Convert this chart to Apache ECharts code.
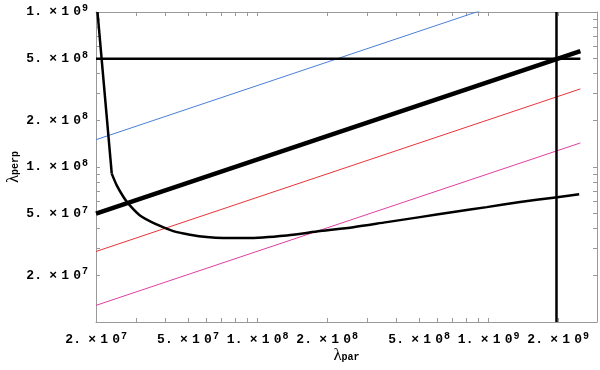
<!DOCTYPE html>
<html>
<head>
<meta charset="utf-8">
<title>lambda perp vs lambda par</title>
<script src="https://cdn.jsdelivr.net/npm/echarts@6/dist/echarts.min.js"></script>
<style>
  html, body { margin: 0; padding: 0; background: #fff; }
  #main { width: 600px; height: 370px; }
</style>
</head>
<body>
<div id="main"></div>
<script>
// axis ranges (log-log)
var xMin = 2e7, xMax = 2.95e9;
var yMin = 1e7, yMax = 1e9;

// labelled ticks
var xLabelTicks = [2e7, 5e7, 1e8, 2e8, 5e8, 1e9, 2e9];
var yLabelTicks = [2e7, 5e7, 1e8, 2e8, 5e8, 1e9];

// straight lines (power law, so two end points are enough)
var lineX  = [2e7, 2.5e9];
var thickY = [5e7, 5.59e8];
var blueY  = [1.5e8, 1.68e9];
var redY   = [2.85e7, 3.19e8];
var pinkY  = [1.28e7, 1.43e8];
var horizY = [5e8, 5e8];
var vertX  = [1.97e9, 1.97e9];
var vertY  = [1e7, 1e9];

// the bent curve: steep part, then the bowl
var steepX = [2.03e7, 2.34e7];
var steepY = [1.0e9, 9.06e7];
var bowlX = [2.34e7, 2.46e7, 2.63e7, 2.76e7, 3.10e7, 3.66e7, 4.32e7, 5.11e7, 6.03e7, 7.11e7,
             8.98e7, 1.34e8, 1.87e8, 2.60e8, 3.63e8, 5.05e8, 7.05e8, 9.83e8, 1.37e9, 1.91e9, 2.47e9];
var bowlY = [9.06e7, 7.61e7, 6.40e7, 5.80e7, 4.87e7, 4.26e7, 3.86e7, 3.66e7, 3.53e7, 3.48e7,
             3.48e7, 3.62e7, 3.86e7, 4.09e7, 4.41e7, 4.75e7, 5.12e7, 5.51e7, 5.94e7, 6.34e7, 6.66e7];

function pairs(xs, ys) {
  var out = [];
  for (var i = 0; i < xs.length; i++) out.push([xs[i], ys[i]]);
  return out;
}

// every k*10^n inside the range -> tick marks
function allTicks(lo, hi) {
  var out = [];
  for (var e = 6; e <= 10; e++) {
    for (var k = 1; k < 10; k++) {
      var v = k * Math.pow(10, e);
      if (v >= lo * 0.999 && v <= hi * 1.001) out.push(v);
    }
  }
  return out;
}

// "2.×10^7" style label
function sciLabel(v) {
  var e = Math.floor(Math.log10(v) + 1e-9);
  var m = Math.round(v / Math.pow(10, e));
  return '{m|' + m + '}{d|.}{x|×}{c|1}{c|0}{e|' + e + '}';
}
// y labels get pinned to the left edge, so lead them with a spacer
function sciLabelY(v) {
  return '{p| }' + sciLabel(v);
}

var font = 'Liberation Mono';
function tok(w, size) {
  return { width: w, align: 'right', fontFamily: font, fontWeight: 'bold', fontSize: size, color: '#000' };
}
var labelRich = {
  p: tok(26, 13),
  m: tok(8, 13),
  d: tok(8, 13),
  x: tok(15, 13),
  c: tok(12, 13),
  e: { width: 7, align: 'right', fontFamily: font, fontWeight: 'bold', fontSize: 10, color: '#000', padding: [0, 0, 7, 0] }
};

var frame = { show: true, lineStyle: { color: '#999', width: 1 } };

function tickStyle(vals) {
  return { show: true, inside: true, length: 4, customValues: vals, lineStyle: { color: '#999' } };
}

var nameRich = {
  l: { fontFamily: 'Liberation Serif', fontSize: 17, color: '#000', padding: [0, 0, 3, 0] },
  s: { fontFamily: font, fontWeight: 'bold', fontSize: 10, color: '#000' }
};

var xTicks = allTicks(xMin, xMax);
var yTicks = allTicks(yMin, yMax);

var myChart = echarts.init(document.getElementById('main'));

var option = {
  animation: false,
  backgroundColor: '#fff',
  grid: { left: 96, right: 3, top: 12, bottom: 48, containLabel: false, outerBoundsMode: 'none' },
  xAxis: [
    {
      type: 'log', logBase: 10, min: xMin, max: xMax, position: 'bottom',
      axisLine: frame, axisTick: tickStyle(xTicks), splitLine: { show: false },
      axisLabel: { customValues: xLabelTicks, margin: 9, formatter: sciLabel, rich: labelRich },
      name: '{l|λ}{s|par}', nameLocation: 'middle', nameGap: 25, nameMoveOverlap: false,
      nameTextStyle: { rich: nameRich }
    },
    {
      type: 'log', logBase: 10, min: xMin, max: xMax, position: 'top',
      axisLine: frame, axisTick: tickStyle(xTicks), axisLabel: { show: false }, splitLine: { show: false }
    }
  ],
  yAxis: [
    {
      type: 'log', logBase: 10, min: yMin, max: yMax, position: 'left',
      axisLine: frame, axisTick: tickStyle(yTicks), splitLine: { show: false },
      axisLabel: { customValues: yLabelTicks, margin: 8, formatter: sciLabelY, rich: labelRich },
      name: '{l|λ}{s|perp}', nameLocation: 'middle', nameGap: 71, nameMoveOverlap: false,
      nameTextStyle: { rich: nameRich }
    },
    {
      type: 'log', logBase: 10, min: yMin, max: yMax, position: 'right',
      axisLine: frame, axisTick: tickStyle(yTicks), axisLabel: { show: false }, splitLine: { show: false }
    }
  ],
  series: [
    { type: 'line', data: pairs(lineX, blueY), symbol: 'none', lineStyle: { color: '#4a7fd8', width: 1 } },
    { type: 'line', data: pairs(lineX, redY), symbol: 'none', lineStyle: { color: '#e8343a', width: 1 } },
    { type: 'line', data: pairs(lineX, pinkY), symbol: 'none', lineStyle: { color: '#e040a0', width: 1 } },
    { type: 'line', data: pairs(lineX, horizY), symbol: 'none', lineStyle: { color: '#000', width: 2.5 } },
    { type: 'line', data: pairs(vertX, vertY), symbol: 'none', lineStyle: { color: '#000', width: 2.5 } },
    { type: 'line', data: pairs(steepX, steepY), symbol: 'none', lineStyle: { color: '#000', width: 2.5 } },
    { type: 'line', data: pairs(bowlX, bowlY), symbol: 'none', smooth: 0.3,
      lineStyle: { color: '#000', width: 2.5 } },
    { type: 'line', data: pairs(lineX, thickY), symbol: 'none', lineStyle: { color: '#000', width: 4.5 } }
  ]
};

myChart.setOption(option);
</script>
</body>
</html>
